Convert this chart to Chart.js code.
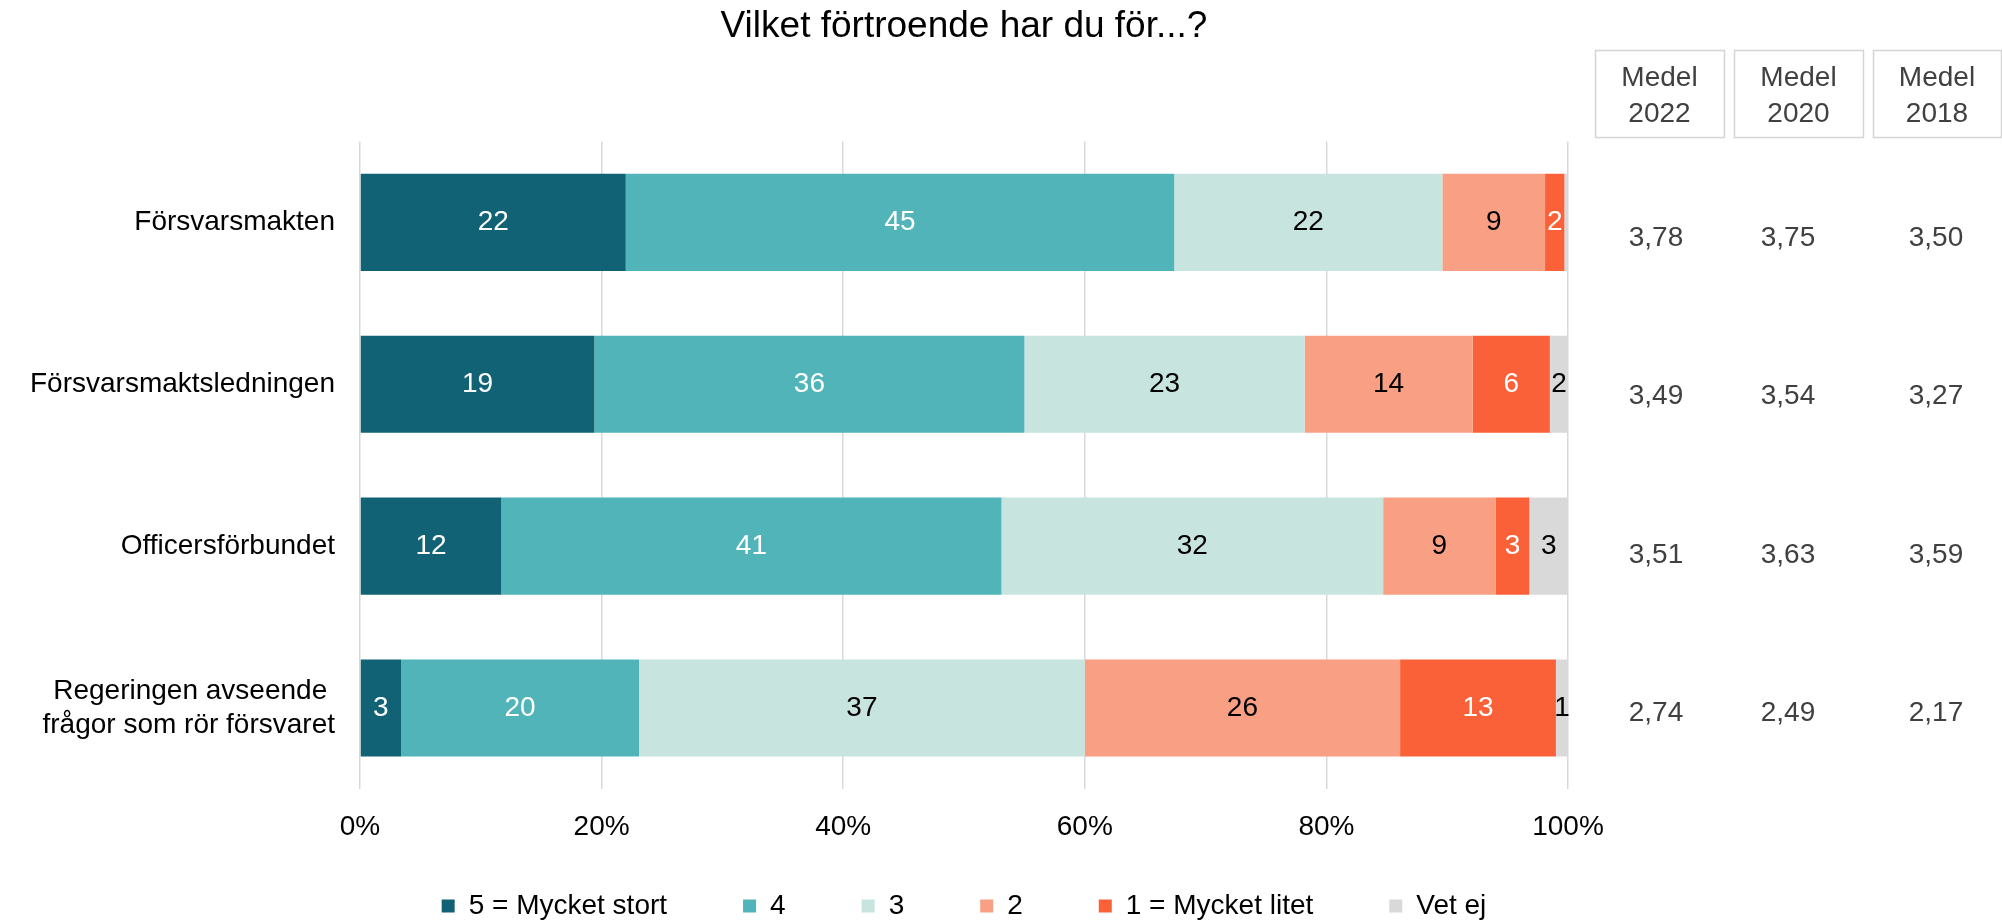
<!DOCTYPE html>
<html><head><meta charset="utf-8">
<script src="https://cdn.jsdelivr.net/npm/chart.js@4/dist/chart.umd.min.js"></script>
<style>html,body{margin:0;padding:0;background:#fff;} canvas{display:block;}</style>
</head><body>
<canvas id="c" width="2002" height="920"></canvas>
<script>
const FONT = "'Liberation Sans', Arial, sans-serif";

const categories = ['Försvarsmakten', 'Försvarsmaktsledningen', 'Officersförbundet', ['Regeringen avseende ', 'frågor som rör försvaret']];
const seriesNames = ['5 = Mycket stort', '4', '3', '2', '1 = Mycket litet', 'Vet ej'];
const s5 = [22.0, 19.4, 11.7, 3.4];
const s4 = [45.4, 35.6, 41.4, 19.7];
const s3 = [22.2, 23.2, 31.6, 36.9];
const s2 = [8.5, 13.9, 9.3, 26.1];
const s1 = [1.6, 6.4, 2.8, 12.9];
const sVetEj = [0.3, 1.5, 3.2, 1.0];
const xTickValues = [0, 20, 40, 60, 80, 100];
const medelHeaders = [['Medel', '2022'], ['Medel', '2020'], ['Medel', '2018']];
const medel2022 = [3.78, 3.49, 3.51, 2.74];
const medel2020 = [3.75, 3.54, 3.63, 2.49];
const medel2018 = [3.50, 3.27, 3.59, 2.17];

const series = [s5, s4, s3, s2, s1, sVetEj];
const colors = ['#126276', '#50b4b9', '#c8e4de', '#f9a084', '#fa6138', '#d9d9d9'];
const labelColors = ['#ffffff', '#ffffff', '#000000', '#000000', '#ffffff', '#000000'];
const medelCols = [medel2022, medel2020, medel2018];

Chart.defaults.font.family = FONT;
Chart.defaults.color = '#000';

const segLabels = {
  id: 'segLabels',
  afterDatasetsDraw(chart) {
    const ctx = chart.ctx;
    ctx.save();
    ctx.font = '28px ' + FONT;
    ctx.textAlign = 'center';
    ctx.textBaseline = 'middle';
    chart.data.datasets.forEach((ds, di) => {
      const meta = chart.getDatasetMeta(di);
      meta.data.forEach((el, i) => {
        const r = Math.round(ds.data[i]);
        if (r < 1) return;
        const p = el.getCenterPoint();
        ctx.fillStyle = labelColors[di];
        ctx.fillText(String(r), p.x, p.y);
      });
    });
    ctx.restore();
  }
};

const medelTable = {
  id: 'medelTable',
  afterDraw(chart) {
    const ctx = chart.ctx;
    const cols = [
      {left: 1595, right: 1724, vx: 1656},
      {left: 1734, right: 1863, vx: 1788},
      {left: 1873, right: 2001, vx: 1936}
    ];
    ctx.save();
    ctx.font = '28px ' + FONT;
    ctx.textAlign = 'center';
    ctx.textBaseline = 'middle';
    cols.forEach((c, ci) => {
      ctx.strokeStyle = '#d4d4d4';
      ctx.lineWidth = 1.5;
      ctx.strokeRect(c.left + 0.5, 50.5, c.right - c.left, 87);
      ctx.fillStyle = '#404040';
      const cx = (c.left + c.right) / 2;
      ctx.fillText(medelHeaders[ci][0], cx, 78);
      ctx.fillText(medelHeaders[ci][1], cx, 114);
      medelCols[ci].forEach((v, ri) => {
        ctx.fillText(v.toFixed(2).replace('.', ','), c.vx, 238 + ri * 158.4);
      });
    });
    ctx.restore();
  }
};

new Chart(document.getElementById('c'), {
  type: 'bar',
  data: {
    labels: categories,
    datasets: seriesNames.map((n, i) => ({
      label: n,
      data: series[i],
      backgroundColor: colors[i],
      borderWidth: 0,
      barPercentage: 0.6,
      categoryPercentage: 1
    }))
  },
  options: {
    indexAxis: 'y',
    responsive: false,
    animation: false,
    devicePixelRatio: 1,
    layout: {padding: {left: 0, right: 434, top: 0, bottom: 0}},
    scales: {
      x: {
        stacked: true, min: 0, max: 100,
        afterBuildTicks(s) { s.ticks = xTickValues.map(v => ({value: v})); },
        ticks: {callback: v => v + '%', font: {size: 28}, color: '#000', padding: 21, maxRotation: 0},
        grid: {color: '#d9d9d9', lineWidth: 1.5, drawTicks: false},
        border: {display: false},
        afterFit(s) { s.height = 27; s._computeLabelArea = () => undefined; }
      },
      y: {
        stacked: true,
        ticks: {font: {size: 28, lineHeight: 1.22}, color: '#000', padding: 25},
        grid: {display: false, drawTicks: false},
        border: {display: false},
        afterFit(s) { s.width = 360; }
      }
    },
    plugins: {
      title: {display: true, text: 'Vilket förtroende har du för...?', font: {size: 37, weight: 'normal'}, color: '#000', padding: {top: 5, bottom: 92}, fullSize: false},
      legend: {position: 'bottom', fullSize: false, maxHeight: 104,
        labels: {boxWidth: 13, boxHeight: 13, padding: 76, font: {size: 28}, color: '#000'}},
      tooltip: {enabled: false}
    }
  },
  plugins: [segLabels, medelTable]
});
</script>
</body></html>
